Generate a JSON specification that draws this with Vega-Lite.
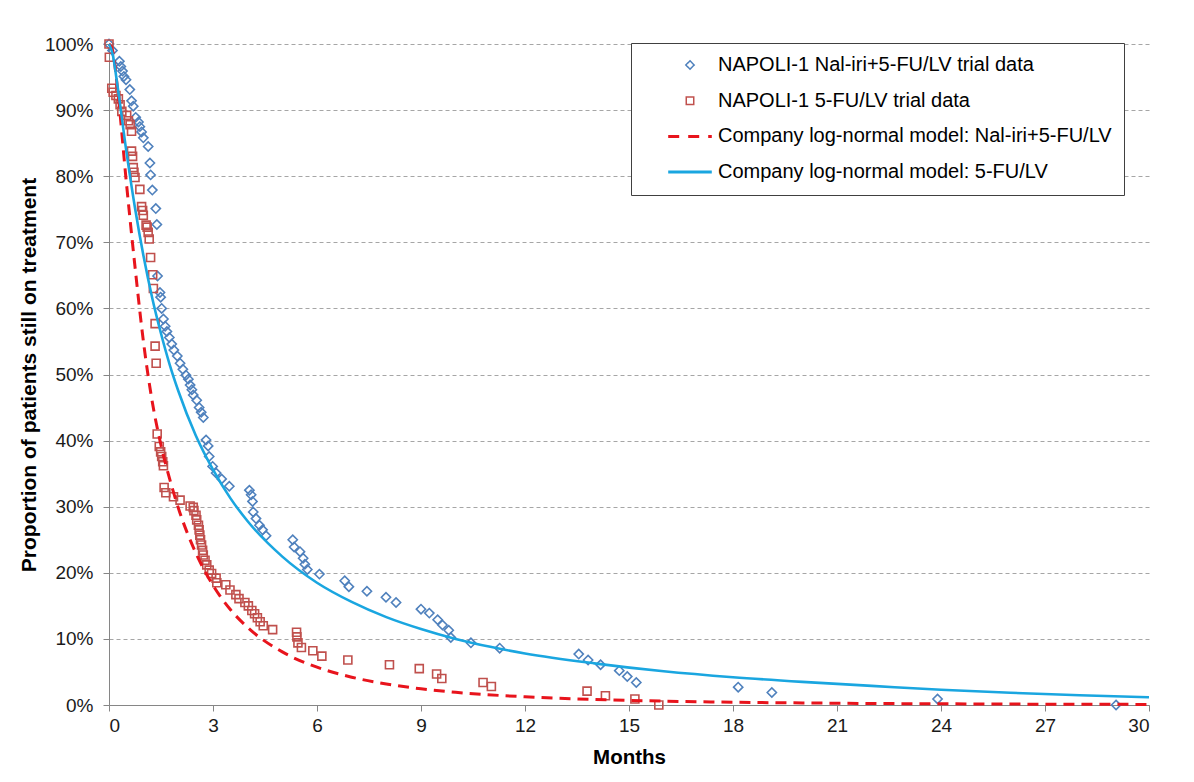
{
  "$schema": "https://vega.github.io/schema/vega-lite/v6.json",
  "width": 1040,
  "height": 661,
  "autosize": {"type": "none"},
  "padding": {"left": 109, "top": 44, "right": 45, "bottom": 77},
  "background": "white",
  "config": {
    "view": {"stroke": null},
    "font": "Liberation Sans",
    "axis": {"labelFont": "Liberation Sans", "titleFont": "Liberation Sans", "labelColor": "#1a1a1a", "titleColor": "#000000"}
  },
  "datasets": {
    "napoliA": [
      {"month":0,"p":1.000},{"month":0.10,"p":0.990},{"month":0.30,"p":0.974},{"month":0.34,"p":0.966},{"month":0.39,"p":0.959},{"month":0.43,"p":0.951},{"month":0.49,"p":0.946},{"month":0.60,"p":0.931},{"month":0.65,"p":0.914},{"month":0.70,"p":0.906},{"month":0.77,"p":0.889},{"month":0.85,"p":0.882},{"month":0.89,"p":0.875},{"month":0.94,"p":0.867},{"month":0.99,"p":0.858},{"month":1.13,"p":0.845},{"month":1.18,"p":0.820},{"month":1.20,"p":0.802},{"month":1.25,"p":0.779},{"month":1.35,"p":0.751},{"month":1.38,"p":0.727},{"month":1.40,"p":0.649},{"month":1.47,"p":0.624},{"month":1.49,"p":0.617},{"month":1.52,"p":0.600},{"month":1.57,"p":0.584},{"month":1.62,"p":0.573},{"month":1.67,"p":0.565},{"month":1.74,"p":0.556},{"month":1.81,"p":0.546},{"month":1.87,"p":0.537},{"month":1.97,"p":0.528},{"month":2.05,"p":0.517},{"month":2.13,"p":0.508},{"month":2.22,"p":0.499},{"month":2.29,"p":0.493},{"month":2.34,"p":0.484},{"month":2.39,"p":0.477},{"month":2.43,"p":0.469},{"month":2.53,"p":0.461},{"month":2.60,"p":0.450},{"month":2.66,"p":0.443},{"month":2.72,"p":0.435},{"month":2.80,"p":0.401},{"month":2.86,"p":0.392},{"month":2.89,"p":0.376},{"month":2.99,"p":0.361},{"month":3.09,"p":0.351},{"month":3.25,"p":0.342},{"month":3.47,"p":0.331},{"month":4.05,"p":0.325},{"month":4.10,"p":0.318},{"month":4.14,"p":0.308},{"month":4.16,"p":0.292},{"month":4.24,"p":0.282},{"month":4.34,"p":0.272},{"month":4.43,"p":0.265},{"month":4.53,"p":0.256},{"month":5.30,"p":0.250},{"month":5.34,"p":0.239},{"month":5.51,"p":0.232},{"month":5.60,"p":0.222},{"month":5.65,"p":0.213},{"month":5.72,"p":0.205},{"month":6.07,"p":0.198},{"month":6.80,"p":0.188},{"month":6.92,"p":0.179},{"month":7.44,"p":0.172},{"month":7.99,"p":0.163},{"month":8.28,"p":0.155},{"month":9.00,"p":0.145},{"month":9.24,"p":0.139},{"month":9.48,"p":0.129},{"month":9.62,"p":0.121},{"month":9.80,"p":0.113},{"month":9.86,"p":0.102},{"month":10.44,"p":0.094},{"month":11.27,"p":0.086},{"month":13.55,"p":0.077},{"month":13.82,"p":0.068},{"month":14.18,"p":0.061},{"month":14.72,"p":0.052},{"month":14.95,"p":0.043},{"month":15.21,"p":0.034},{"month":18.15,"p":0.027},{"month":19.12,"p":0.019},{"month":23.90,"p":0.009},{"month":29.05,"p":0.000}
    ],
    "napoliB": [
      {"month":0,"p":1.000},{"month":0.01,"p":0.980},{"month":0.08,"p":0.933},{"month":0.12,"p":0.927},{"month":0.20,"p":0.922},{"month":0.27,"p":0.917},{"month":0.32,"p":0.908},{"month":0.37,"p":0.898},{"month":0.51,"p":0.892},{"month":0.56,"p":0.884},{"month":0.61,"p":0.878},{"month":0.65,"p":0.868},{"month":0.65,"p":0.838},{"month":0.68,"p":0.830},{"month":0.70,"p":0.813},{"month":0.72,"p":0.806},{"month":0.75,"p":0.798},{"month":0.89,"p":0.780},{"month":0.94,"p":0.754},{"month":0.97,"p":0.748},{"month":0.99,"p":0.741},{"month":1.07,"p":0.726},{"month":1.10,"p":0.723},{"month":1.13,"p":0.715},{"month":1.16,"p":0.705},{"month":1.20,"p":0.677},{"month":1.26,"p":0.651},{"month":1.28,"p":0.630},{"month":1.33,"p":0.577},{"month":1.33,"p":0.543},{"month":1.36,"p":0.517},{"month":1.39,"p":0.410},{"month":1.45,"p":0.391},{"month":1.49,"p":0.383},{"month":1.52,"p":0.376},{"month":1.55,"p":0.368},{"month":1.57,"p":0.362},{"month":1.59,"p":0.329},{"month":1.64,"p":0.321},{"month":1.86,"p":0.315},{"month":2.05,"p":0.310},{"month":2.34,"p":0.301},{"month":2.43,"p":0.299},{"month":2.45,"p":0.294},{"month":2.51,"p":0.287},{"month":2.53,"p":0.280},{"month":2.58,"p":0.272},{"month":2.60,"p":0.265},{"month":2.62,"p":0.257},{"month":2.64,"p":0.250},{"month":2.67,"p":0.242},{"month":2.70,"p":0.234},{"month":2.72,"p":0.227},{"month":2.77,"p":0.219},{"month":2.82,"p":0.212},{"month":2.89,"p":0.204},{"month":2.96,"p":0.199},{"month":3.09,"p":0.192},{"month":3.11,"p":0.185},{"month":3.37,"p":0.182},{"month":3.49,"p":0.174},{"month":3.66,"p":0.167},{"month":3.75,"p":0.161},{"month":3.92,"p":0.155},{"month":4.02,"p":0.150},{"month":4.12,"p":0.143},{"month":4.20,"p":0.138},{"month":4.28,"p":0.132},{"month":4.36,"p":0.126},{"month":4.45,"p":0.120},{"month":4.72,"p":0.114},{"month":5.41,"p":0.110},{"month":5.42,"p":0.103},{"month":5.45,"p":0.094},{"month":5.55,"p":0.087},{"month":5.88,"p":0.082},{"month":6.14,"p":0.074},{"month":6.89,"p":0.068},{"month":8.09,"p":0.061},{"month":8.95,"p":0.055},{"month":9.45,"p":0.047},{"month":9.60,"p":0.040},{"month":10.79,"p":0.034},{"month":11.03,"p":0.028},{"month":13.79,"p":0.021},{"month":14.32,"p":0.014},{"month":15.17,"p":0.009},{"month":15.86,"p":0.000}
    ],
    "modelC": [
      {"month":0,"p":1.0},{"month":0.1,"p":0.991},{"month":0.25,"p":0.930},{"month":0.5,"p":0.791},{"month":0.75,"p":0.663},{"month":1,"p":0.547},{"month":1.25,"p":0.458},{"month":1.5,"p":0.393},{"month":1.75,"p":0.342},{"month":2,"p":0.298},{"month":2.5,"p":0.2306},{"month":3,"p":0.181},{"month":3.5,"p":0.1445},{"month":4,"p":0.1173},{"month":5,"p":0.0803},{"month":6,"p":0.0572},{"month":7,"p":0.0421},{"month":8,"p":0.0318},{"month":9,"p":0.0245},{"month":10,"p":0.0192},{"month":12,"p":0.0124},{"month":14,"p":0.0084},{"month":16,"p":0.0058},{"month":18,"p":0.0042},{"month":20,"p":0.0031},{"month":22,"p":0.0023},{"month":24,"p":0.0018},{"month":26,"p":0.0014},{"month":28,"p":0.0011},{"month":30,"p":0.0009}
    ],
    "modelD": [
      {"month":0,"p":1.0},{"month":0.1,"p":0.986},{"month":0.25,"p":0.935},{"month":0.5,"p":0.838},{"month":0.75,"p":0.752},{"month":1,"p":0.678},{"month":1.25,"p":0.615},{"month":1.5,"p":0.562},{"month":1.75,"p":0.515},{"month":2,"p":0.475},{"month":2.5,"p":0.408},{"month":3,"p":0.356},{"month":3.5,"p":0.313},{"month":4,"p":0.278},{"month":5,"p":0.2245},{"month":6,"p":0.185},{"month":7,"p":0.156},{"month":8,"p":0.133},{"month":9,"p":0.115},{"month":10,"p":0.100},{"month":11,"p":0.088},{"month":12,"p":0.078},{"month":14,"p":0.063},{"month":16,"p":0.051},{"month":18,"p":0.042},{"month":20,"p":0.035},{"month":22,"p":0.029},{"month":24,"p":0.023},{"month":26,"p":0.0185},{"month":28,"p":0.0148},{"month":30,"p":0.0118}
    ]
  },
  "encoding": {
    "x": {
      "field": "month", "type": "quantitative",
      "scale": {"domain": [0, 30], "nice": false},
      "axis": {
        "values": [0, 3, 6, 9, 12, 15, 18, 21, 24, 27, 30],
        "grid": false,
        "domainColor": "#868686", "tickColor": "#868686", "tickSize": 6,
        "labelFontSize": 19, "labelPadding": 5,
        "title": "Months", "titleFontSize": 20.5, "titleFontWeight": "bold", "titlePadding": 12
      }
    },
    "y": {
      "field": "p", "type": "quantitative",
      "scale": {"domain": [0, 1], "nice": false},
      "axis": {
        "values": [0, 0.1, 0.2, 0.3, 0.4, 0.5, 0.6, 0.7, 0.8, 0.9, 1],
        "format": ".0%",
        "grid": true, "gridColor": "#a6a6a6", "gridDash": [4, 3], "gridWidth": 1,
        "domainColor": "#868686", "tickColor": "#868686", "tickSize": 6,
        "labelFontSize": 19, "labelPadding": 10,
        "title": "Proportion of patients still on treatment", "titleFontSize": 21, "titleFontWeight": "bold", "titlePadding": 5
      }
    }
  },
  "layer": [
    {
      "data": {"name": "napoliA"},
      "mark": {"type": "point", "shape": "diamond", "filled": false, "size": 85, "strokeWidth": 1.6, "opacity": 1},
      "encoding": {
        "color": {
          "datum": "A", "type": "nominal",
          "scale": {"domain": ["A", "B", "C", "D"], "range": ["#4F81BD", "#C0504D", "#E8141C", "#1AA6E0"]},
          "legend": {
            "title": null,
            "orient": "none",
            "legendX": 522,
            "legendY": -1,
            "direction": "vertical",
            "padding": 12,
            "strokeColor": "#404040",
            "fillColor": "white",
            "symbolSize": 400,
            "symbolOffset": 37,
            "labelOffset": 18,
            "rowPadding": 15.7,
            "labelFont": "Liberation Sans",
            "labelFontSize": 20,
            "labelColor": "#000000",
            "labelLimit": 600,
            "labelExpr": "datum.value === 'A' ? 'NAPOLI-1 Nal-iri+5-FU/LV trial data' : datum.value === 'B' ? 'NAPOLI-1 5-FU/LV trial data' : datum.value === 'C' ? 'Company log-normal model: Nal-iri+5-FU/LV' : 'Company log-normal model: 5-FU/LV'",
            "encoding": {
              "symbols": {
                "shape": {"value": {"expr": "datum.value === 'A' ? 'diamond' : datum.value === 'B' ? 'square' : 'stroke'"}},
                "size": {"value": {"expr": "datum.value === 'A' ? 70 : datum.value === 'B' ? 56 : 1900"}},
                "strokeWidth": {"value": {"expr": "datum.value === 'A' || datum.value === 'B' ? 1.5 : 3"}},
                "strokeDash": {"value": {"expr": "datum.value === 'C' ? [11, 9] : [1, 0]"}},
                "fill": {"value": "transparent"},
                "opacity": {"value": 1}
              }
            }
          }
        }
      }
    },
    {
      "data": {"name": "napoliB"},
      "mark": {"type": "point", "shape": "square", "filled": false, "size": 64, "strokeWidth": 1.6, "opacity": 1},
      "encoding": {"color": {"datum": "B", "type": "nominal"}}
    },
    {
      "data": {"name": "modelC"},
      "mark": {"type": "line", "interpolate": "monotone", "strokeWidth": 3, "strokeDash": [11, 7]},
      "encoding": {"color": {"datum": "C", "type": "nominal"}}
    },
    {
      "data": {"name": "modelD"},
      "mark": {"type": "line", "interpolate": "monotone", "strokeWidth": 2.6},
      "encoding": {"color": {"datum": "D", "type": "nominal"}}
    }
  ]
}
